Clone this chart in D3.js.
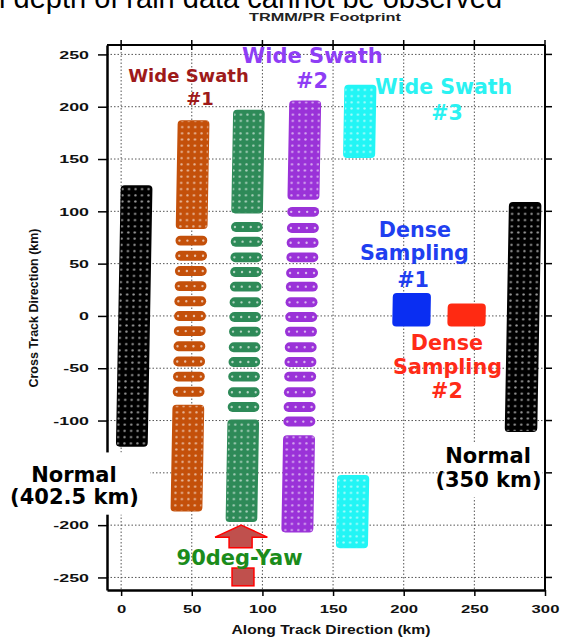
<!DOCTYPE html>
<html>
<head>
<meta charset="utf-8">
<script src="https://cdn.jsdelivr.net/npm/d3@7"></script>
<style>
body { margin: 0; background: #fff; }
svg { display: block; }
</style>
</head>
<body>
<script>
var w = 563;
var h = 639;

// axis ticks
var xTicks = [0, 50, 100, 150, 200, 250, 300];
var yTicks = [250, 200, 150, 100, 50, 0, -50, -100, -150, -200, -250];

// footprint modes (along track extent, km)
var modes = ["normal402", "wide1", "yaw90", "wide2", "wide3", "dense1", "dense2", "normal350"];
var alongStart = [-2, 37.5, 76.6, 116.2, 155, 192, 231, 273];
var alongEnd = [20.5, 60, 99, 138.8, 177.7, 219, 258, 296];
var modeColor = ["#000000", "#c4500a", "#2e8a58", "#9a32d8", "#22f5f5", "#0a2ef2", "#ff2a12", "#000000"];
var dotted = [true, true, true, true, true, false, false, true];

// solid blocks (cross track extent, km)
var blockMode = [0, 1, 1, 2, 2, 3, 3, 4, 4, 5, 6, 7];
var blockLow = [-125, 83, -187, 98, -197, 111, -207, 151, -222, -10, -10, -111];
var blockHigh = [125, 187, -85, 197, -99, 206, -114, 221, -152, 22, 12, 109];

// single footprint rows (cross track centre, km)
var wide1Rows = [72, 57.5, 43, 28.5, 14, 0, -14.5, -29, -43.5, -58, -72.5];
var yawRows = [85, 71, 56, 42, 28, 13, -1, -15, -30, -44, -58, -73, -87];
var wide2Rows = [99.5, 84, 70, 56, 41, 28, 13, -1, -15, -30, -44, -58, -73, -87, -101];
var rowHeight = 9.5;

// annotations
var labelText = ["Wide Swath", "#1", "Wide Swath", "#2", "Wide Swath", "#3",
  "Dense", "Sampling", "#1", "Dense", "Sampling", "#2",
  "Normal", "(402.5 km)", "Normal", "(350 km)", "90deg-Yaw"];
var labelX = [47.7, 55.8, 135.4, 135.1, 228.2, 230.6, 208, 207.6, 206.6, 230.6, 231, 230.6, -33.4, -33, 259.7, 260, 83.8];
var labelY = [223.7, 201.7, 241.8, 217.9, 212.2, 187.3, 75.5, 53.5, 27.7, -32.6, -55.5, -78.4, -158.8, -179.8, -140.6, -163.5, -238.1];
var labelSize = [18, 18, 21, 21, 20.5, 20.5, 20.7, 20.7, 20.7, 20.7, 20.7, 20.7, 21, 21, 21, 21, 21];
var labelColor = ["#9e1a1a", "#9e1a1a", "#8e3df5", "#8e3df5", "#2af2f2", "#2af2f2",
  "#1f3ff0", "#1f3ff0", "#1f3ff0", "#ff2b17", "#ff2b17", "#ff2b17",
  "#000", "#000", "#000", "#000", "#1b8c1b"];

// yaw arrow and marker (km)
var arrowX = [85, 103.5, 92.7, 92.7, 76.4, 76.4, 66.5];
var arrowY = [-200, -211.5, -211.5, -221.5, -221.5, -211.5, -211.5];
var markX = [78.5, 94];
var markY = [-258, -241];

var svg = d3.select("body").append("svg")
  .attr("width", w)
  .attr("height", h);

var x = d3.scaleLinear().domain([-10, 300]).range([107, 545]);
var y = d3.scaleLinear().domain([-262, 259]).range([590, 45]);

function stretch(sel, k) {
  sel.each(function() {
    var t = d3.select(this);
    t.attr("textLength", this.getComputedTextLength() * k)
      .attr("lengthAdjust", "spacingAndGlyphs");
  });
}

// top cut off line of text and title
svg.append("text")
  .attr("x", -1).attr("y", 8)
  .style("font-family", "Liberation Sans, Arial, sans-serif")
  .style("font-size", "29px")
  .text("l depth of rain data cannot be observed");

svg.append("text")
  .attr("x", 325).attr("y", 21)
  .attr("text-anchor", "middle")
  .style("font-family", "Liberation Sans, Arial, sans-serif")
  .style("font-weight", "bold")
  .style("font-size", "10.5px")
  .style("fill", "#222")
  .text("TRMM/PR Footprint")
  .call(stretch, 1.55);

// dot pattern for footprints
var defs = svg.append("defs");
defs.append("pattern")
  .attr("id", "dots")
  .attr("patternUnits", "userSpaceOnUse")
  .attr("width", 6.5).attr("height", 6.2)
  .append("circle")
  .attr("cx", 3.25).attr("cy", 3.1).attr("r", 1.2)
  .attr("fill", "#fff").attr("opacity", 0.6);

// grid
var grid = svg.append("g")
  .attr("stroke", "#555")
  .attr("stroke-width", 1)
  .attr("stroke-dasharray", "1.5,2");
grid.selectAll(".hg").data(yTicks).enter().append("line")
  .attr("x1", x(-10)).attr("x2", x(300))
  .attr("y1", function(d){ return y(d); })
  .attr("y2", function(d){ return y(d); });
grid.selectAll(".vg").data(xTicks.slice(0, 6)).enter().append("line")
  .attr("x1", function(d){ return x(d); })
  .attr("x2", function(d){ return x(d); })
  .attr("y1", y(259)).attr("y2", y(-262));

// footprints, slightly slanted like the original picture
var y0 = y(0);
var marks = svg.append("g")
  .attr("transform", "translate(0," + y0 + ") skewX(-1.05) translate(0," + (-y0) + ")");

var blocks = d3.range(blockMode.length);
marks.selectAll(".blk").data(blocks).enter().append("rect")
  .attr("x", function(i){ return x(alongStart[blockMode[i]]); })
  .attr("width", function(i){ return x(alongEnd[blockMode[i]]) - x(alongStart[blockMode[i]]); })
  .attr("y", function(i){ return y(blockHigh[i]); })
  .attr("height", function(i){ return y(blockLow[i]) - y(blockHigh[i]); })
  .attr("rx", 4)
  .attr("fill", function(i){ return modeColor[blockMode[i]]; });
marks.selectAll(".blkdots").data(blocks.filter(function(i){ return dotted[blockMode[i]]; })).enter().append("rect")
  .attr("x", function(i){ return x(alongStart[blockMode[i]]) + 1; })
  .attr("width", function(i){ return x(alongEnd[blockMode[i]]) - x(alongStart[blockMode[i]]) - 2; })
  .attr("y", function(i){ return y(blockHigh[i]) + 1; })
  .attr("height", function(i){ return y(blockLow[i]) - y(blockHigh[i]) - 2; })
  .attr("fill", "url(#dots)");

var rows = [];
wide1Rows.forEach(function(c){ rows.push({m: 1, c: c}); });
yawRows.forEach(function(c){ rows.push({m: 2, c: c}); });
wide2Rows.forEach(function(c){ rows.push({m: 3, c: c}); });

marks.selectAll(".row").data(rows).enter().append("rect")
  .attr("x", function(d){ return x(alongStart[d.m]); })
  .attr("width", function(d){ return x(alongEnd[d.m]) - x(alongStart[d.m]); })
  .attr("y", function(d){ return y(d.c + rowHeight / 2); })
  .attr("height", function(d){ return y(d.c - rowHeight / 2) - y(d.c + rowHeight / 2); })
  .attr("rx", 5)
  .attr("fill", function(d){ return modeColor[d.m]; });

var rowDots = [];
rows.forEach(function(d){
  for (var k = 0; k < 4; k++) rowDots.push({m: d.m, c: d.c, k: k});
});
marks.selectAll(".rowdot").data(rowDots).enter().append("circle")
  .attr("cx", function(d){
    var a = x(alongStart[d.m]), b = x(alongEnd[d.m]);
    return a + (d.k + 0.5) * (b - a) / 4;
  })
  .attr("cy", function(d){ return y(d.c); })
  .attr("r", 1.2)
  .attr("fill", "#fff")
  .attr("opacity", 0.65);

// white box behind the right Normal label
svg.append("rect")
  .attr("x", x(235)).attr("y", y(-122))
  .attr("width", x(298) - x(235)).attr("height", y(-173.5) - y(-122))
  .attr("fill", "#fff");

// arrow and marker for 90deg yaw
svg.append("path")
  .attr("d", d3.line()(arrowX.map(function(v, i){ return [x(v), y(arrowY[i])]; })) + "Z")
  .attr("fill", "#c0504d")
  .attr("stroke", "#ff0000")
  .attr("stroke-width", 1.5);
svg.append("rect")
  .attr("x", x(markX[0])).attr("y", y(markY[1]))
  .attr("width", x(markX[1]) - x(markX[0]))
  .attr("height", y(markY[0]) - y(markY[1]))
  .attr("fill", "#c0504d")
  .attr("stroke", "#ff0000")
  .attr("stroke-width", 1.5);

// frame and axes
var frame = svg.append("g").attr("stroke", "#000").attr("fill", "none");
frame.append("line").attr("x1", x(-10)).attr("x2", x(300)).attr("y1", y(259)).attr("y2", y(259)).attr("stroke-width", 2);
frame.append("line").attr("x1", x(300)).attr("x2", x(300)).attr("y1", y(259)).attr("y2", y(-262)).attr("stroke-width", 2);
frame.selectAll(".tt").data(xTicks).enter().append("line")
  .attr("x1", function(d){ return x(d); }).attr("x2", function(d){ return x(d); })
  .attr("y1", y(259) - 5).attr("y2", y(259) + 5).attr("stroke-width", 1.5);
frame.selectAll(".rt").data(yTicks).enter().append("line")
  .attr("x1", x(300)).attr("x2", x(300) + 7)
  .attr("y1", function(d){ return y(d); }).attr("y2", function(d){ return y(d); })
  .attr("stroke-width", 1.5);

// -150 is hidden behind the Normal label in the original
var leftAxis = svg.append("g")
  .attr("transform", "translate(" + x(-10) + ",0)")
  .call(d3.axisLeft(y).tickValues(yTicks).tickSize(9).tickPadding(9).tickSizeOuter(0)
    .tickFormat(function(d){ return d === -150 ? "" : d; }));
var bottomAxis = svg.append("g")
  .attr("transform", "translate(0," + y(-262) + ")")
  .call(d3.axisBottom(x).tickValues(xTicks).tickSize(6).tickPadding(9).tickSizeOuter(0));

[leftAxis, bottomAxis].forEach(function(a){
  a.select(".domain").attr("stroke-width", 2.5);
  a.selectAll(".tick line").attr("stroke-width", 1.5);
  a.selectAll(".tick text")
    .style("font-family", "Liberation Sans, Arial, sans-serif")
    .style("font-weight", "bold")
    .style("font-size", "11.5px")
    .attr("fill", "#111");
});
leftAxis.selectAll(".tick text").call(stretch, 1.55);
bottomAxis.selectAll(".tick text").call(stretch, 1.45);

// left white box hides the axis and grid behind the label
svg.append("rect")
  .attr("x", 0).attr("y", y(-130.5))
  .attr("width", x(20.5)).attr("height", y(-190) - y(-130.5))
  .attr("fill", "#fff");

// axis titles
svg.append("text")
  .attr("x", 331).attr("y", 634)
  .attr("text-anchor", "middle")
  .style("font-family", "Liberation Sans, Arial, sans-serif")
  .style("font-weight", "bold")
  .style("font-size", "12.5px")
  .style("fill", "#111")
  .text("Along Track Direction (km)")
  .call(stretch, 1.25);

svg.append("text")
  .attr("transform", "translate(38,308) rotate(-90)")
  .attr("text-anchor", "middle")
  .style("font-family", "Liberation Sans, Arial, sans-serif")
  .style("font-weight", "bold")
  .style("font-size", "12.5px")
  .style("fill", "#111")
  .text("Cross Track Direction (km)");

// annotation labels
svg.selectAll(".lbl").data(d3.range(labelText.length)).enter().append("text")
  .attr("x", function(i){ return x(labelX[i]); })
  .attr("y", function(i){ return y(labelY[i]); })
  .attr("text-anchor", "middle")
  .style("font-family", "DejaVu Sans, Verdana, sans-serif")
  .style("font-weight", "bold")
  .style("font-size", function(i){ return labelSize[i] + "px"; })
  .attr("fill", function(i){ return labelColor[i]; })
  .text(function(i){ return labelText[i]; });
</script>
</body>
</html>
